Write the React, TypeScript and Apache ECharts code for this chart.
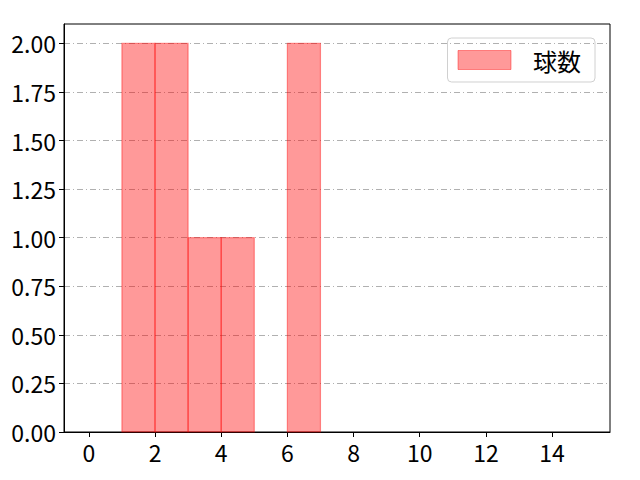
import { useEffect, useRef } from "react";
import * as echarts from "echarts";

// histogram bins (left edge, right edge) and counts
const binStarts = [0, 1, 2, 3, 4, 5, 6, 7, 8, 9, 10, 11, 12, 13, 14];
const binEnds = [1, 2, 3, 4, 5, 6, 7, 8, 9, 10, 11, 12, 13, 14, 15];
const counts = [0, 2, 2, 1, 1, 0, 2, 0, 0, 0, 0, 0, 0, 0, 0];
const xTicks = [0, 2, 4, 6, 8, 10, 12, 14];
const yTicks = [0, 0.25, 0.5, 0.75, 1.0, 1.25, 1.5, 1.75, 2.0];
const seriesName = "球数";

const FONT = "'Noto Sans CJK JP', 'DejaVu Sans', sans-serif";

function App() {
  const chartRef = useRef<HTMLDivElement>(null);

  useEffect(() => {
    const chart = echarts.init(chartRef.current, null, { renderer: "svg" });

    const data = binStarts.map((s, i) => [s, binEnds[i], counts[i]]);

    const option = {
      animation: false,
      grid: {
        left: 64,
        right: 30,
        top: 24,
        bottom: 48,
        show: true,
        borderColor: "#000",
        borderWidth: 1,
      },
      legend: {
        data: [
          {
            name: seriesName,
            icon: "rect",
            itemStyle: {
              color: "rgba(255,0,0,0.4)",
              borderColor: "rgba(255,0,0,0.4)",
              borderWidth: 1,
            },
          },
        ],
        right: 45,
        top: 38,
        itemWidth: 53,
        itemHeight: 19,
        padding: [10, 14, 10, 10],
        borderColor: "#d0d0d0",
        borderWidth: 1,
        borderRadius: 4,
        textStyle: {
          fontFamily: FONT,
          fontSize: 24,
          color: "#000",
          padding: [0, 0, 0, 17],
        },
      },
      xAxis: {
        type: "value",
        min: -0.75,
        max: 15.75,
        axisLine: { show: true, onZero: false, lineStyle: { color: "#000" } },
        axisTick: {
          show: true,
          length: 5,
          customValues: xTicks,
          lineStyle: { color: "#000" },
        },
        axisLabel: {
          customValues: xTicks,
          fontFamily: FONT,
          fontSize: 23,
          color: "#000",
          margin: 8,
        },
        splitLine: { show: false },
      },
      yAxis: {
        type: "value",
        min: 0,
        max: 2.1,
        axisLine: { show: true, onZero: false, lineStyle: { color: "#000" } },
        axisTick: {
          show: true,
          length: 5,
          customValues: yTicks,
          lineStyle: { color: "#000" },
        },
        axisLabel: {
          customValues: yTicks,
          formatter: (v: number) => v.toFixed(2),
          fontFamily: FONT,
          fontSize: 23,
          color: "#000",
          margin: 8,
        },
        splitLine: {
          show: true,
          customValues: yTicks,
          lineStyle: { color: "#b0b0b0", type: [6, 3, 1, 3], width: 1 },
        },
      },
      series: [
        {
          name: seriesName,
          type: "custom",
          data,
          encode: { x: [0, 1], y: 2 },
          renderItem: (_params: any, api: any) => {
            const h = api.value(2);
            if (!h) return null;
            const p0 = api.coord([api.value(0), 0]);
            const p1 = api.coord([api.value(1), h]);
            return {
              type: "rect",
              shape: {
                x: p0[0],
                y: p1[1],
                width: p1[0] - p0[0],
                height: p0[1] - p1[1],
              },
              style: {
                fill: "rgba(255,0,0,0.4)",
                stroke: "rgba(255,0,0,0.4)",
                lineWidth: 1.2,
              },
            };
          },
        },
      ],
    };

    chart.setOption(option);
    return () => {
      chart.dispose();
    };
  }, []);

  return (
    <div style={{ margin: -8 }}>
      <div ref={chartRef} style={{ width: 640, height: 480 }}></div>
    </div>
  );
}

export default App;
